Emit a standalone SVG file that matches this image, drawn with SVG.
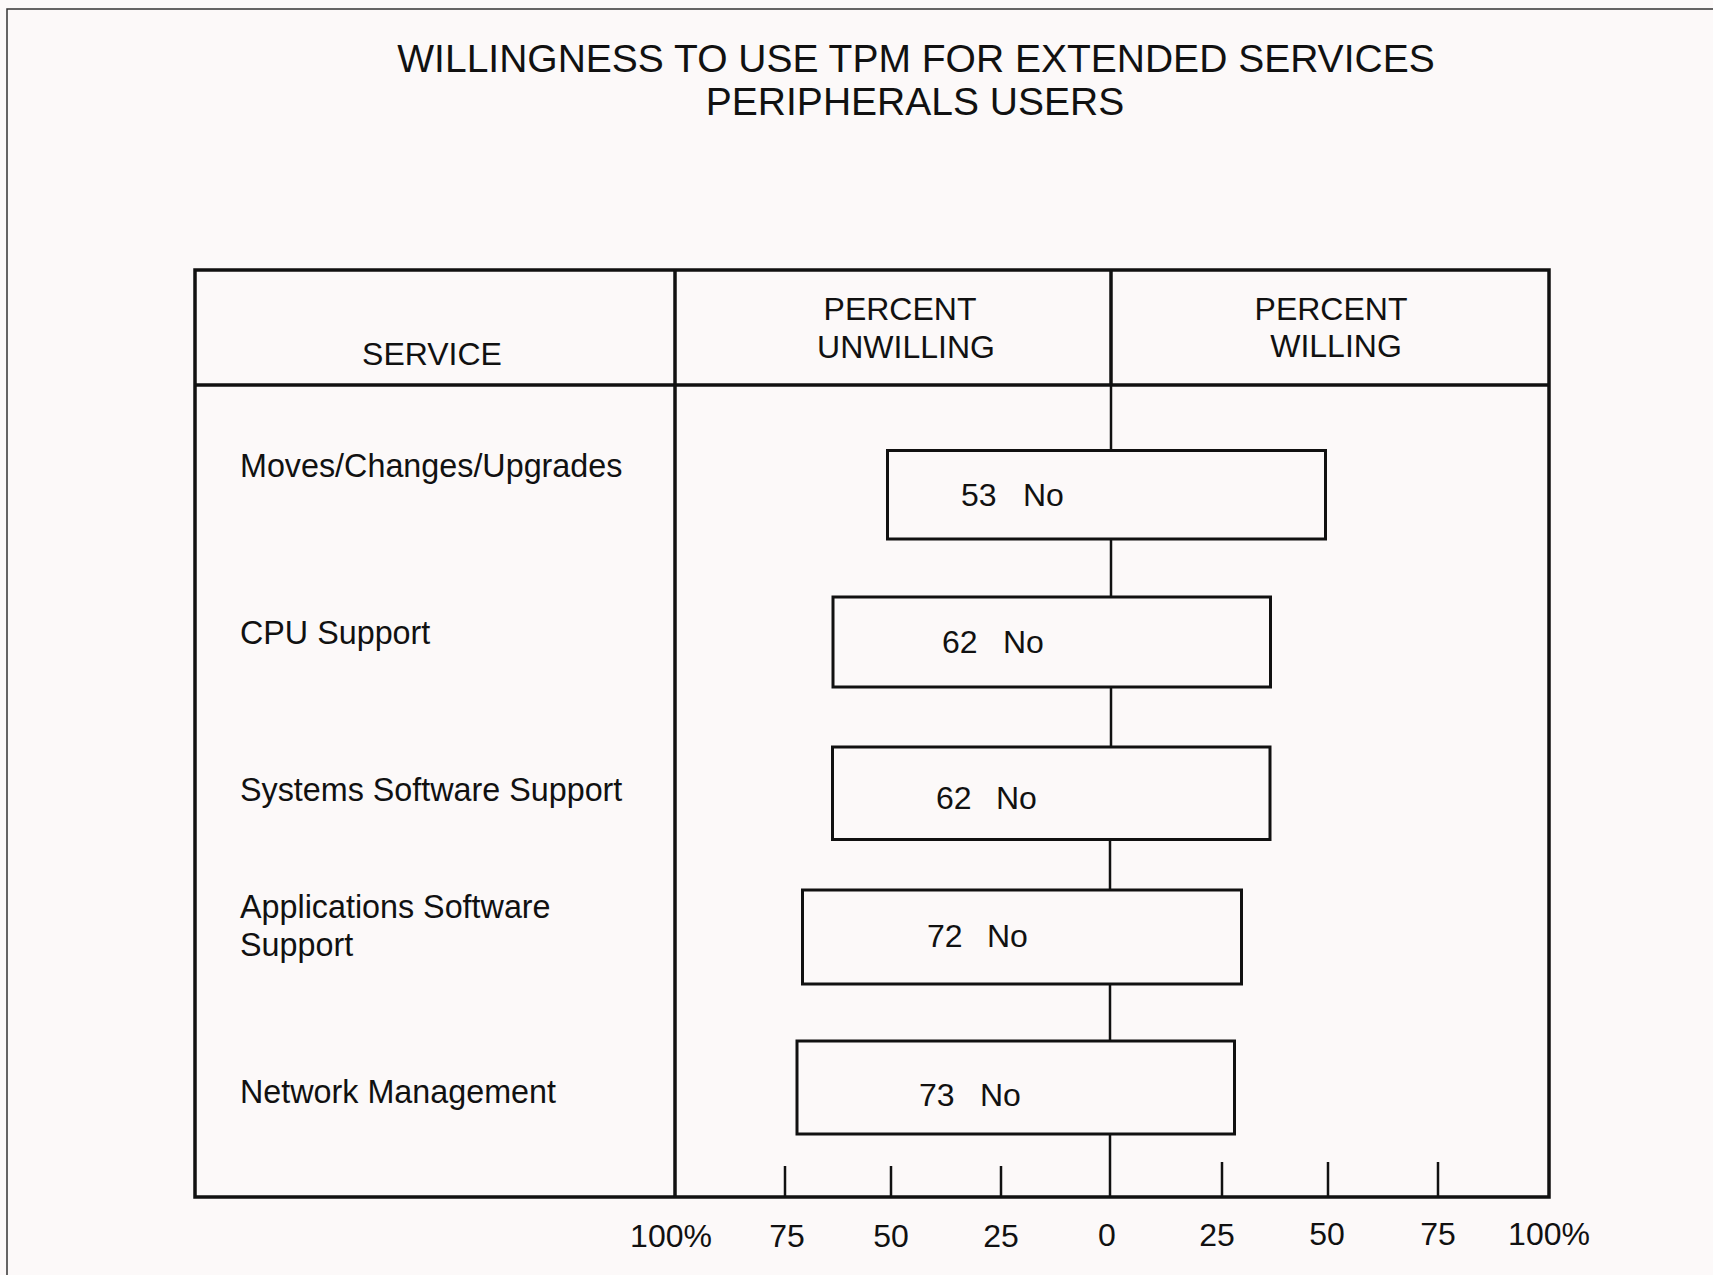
<svg xmlns="http://www.w3.org/2000/svg" width="1713" height="1275" viewBox="0 0 1713 1275">
<style>
text{font-family:"Liberation Sans",Arial,sans-serif;fill:#111;}
.title{font-size:39px;text-anchor:middle;}
.hdr{font-size:32px;text-anchor:middle;}
.svc{font-size:32.3px;}
.val{font-size:32px;}
.ax{font-size:32px;text-anchor:middle;}
.frame{fill:none;stroke:#111;stroke-width:3.5;}
.bar{fill:#fcf9f9;stroke:#111;stroke-width:3;}
.conn{stroke:#111;stroke-width:2.5;fill:none;}
.tick{stroke:#111;stroke-width:2.5;}
</style>
<rect x="0" y="0" width="1713" height="1275" fill="#fcf9f9"/>
<path d="M7,1275 L7,9 L1713,9" fill="none" stroke="#333" stroke-width="1.5"/>
<g id="title">
<text class="title" x="916" y="72">WILLINGNESS TO USE TPM FOR EXTENDED SERVICES</text>
<text class="title" x="915" y="115">PERIPHERALS USERS</text>
</g>
<g id="table">
<rect class="frame" x="195" y="270" width="1354" height="927"/>
<line class="frame" x1="195" y1="385" x2="1549" y2="385"/>
<line class="frame" x1="675" y1="270" x2="675" y2="1197"/>
<line class="frame" x1="1111" y1="270" x2="1111" y2="385"/>
<text class="hdr" x="432" y="365">SERVICE</text>
<text class="hdr" x="900" y="320">PERCENT</text>
<text class="hdr" x="906" y="358">UNWILLING</text>
<text class="hdr" x="1331" y="320">PERCENT</text>
<text class="hdr" x="1336" y="357">WILLING</text>
</g>
<g id="services">
<text class="svc" x="240" y="477">Moves/Changes/Upgrades</text>
<text class="svc" x="240" y="644">CPU Support</text>
<text class="svc" x="240" y="801">Systems Software Support</text>
<text class="svc" x="240" y="918">Applications Software</text>
<text class="svc" x="240" y="956">Support</text>
<text class="svc" x="240" y="1103">Network Management</text>
</g>
<g id="connectors">
<line class="conn" x1="1111" y1="385" x2="1111" y2="450"/>
<line class="conn" x1="1111" y1="539" x2="1111" y2="597"/>
<line class="conn" x1="1111" y1="687" x2="1111" y2="747"/>
<line class="conn" x1="1110" y1="839" x2="1110" y2="890"/>
<line class="conn" x1="1110" y1="984" x2="1110" y2="1041"/>
<line class="conn" x1="1110" y1="1134" x2="1110" y2="1197"/>
</g>
<g id="bar1">
<rect class="bar" x="887.5" y="450.5" width="438" height="88.5"/>
<text class="val" x="961" y="506">53<tspan x="1023">No</tspan></text>
</g>
<g id="bar2">
<rect class="bar" x="833" y="597" width="437.5" height="90"/>
<text class="val" x="942" y="653">62<tspan x="1003">No</tspan></text>
</g>
<g id="bar3">
<rect class="bar" x="832.5" y="747" width="437.5" height="92.5"/>
<text class="val" x="936" y="809">62<tspan x="996">No</tspan></text>
</g>
<g id="bar4">
<rect class="bar" x="802.5" y="890" width="439" height="94"/>
<text class="val" x="927" y="947">72<tspan x="987">No</tspan></text>
</g>
<g id="bar5">
<rect class="bar" x="797" y="1041" width="437.5" height="93"/>
<text class="val" x="919" y="1106">73<tspan x="980">No</tspan></text>
</g>
<g id="axis">
<line class="tick" x1="785" y1="1166" x2="785" y2="1197"/>
<line class="tick" x1="891" y1="1166" x2="891" y2="1197"/>
<line class="tick" x1="1001" y1="1166" x2="1001" y2="1197"/>
<line class="tick" x1="1222" y1="1162" x2="1222" y2="1197"/>
<line class="tick" x1="1328" y1="1162" x2="1328" y2="1197"/>
<line class="tick" x1="1438" y1="1162" x2="1438" y2="1197"/>
<text class="ax" x="671" y="1247">100%</text>
<text class="ax" x="787" y="1247">75</text>
<text class="ax" x="891" y="1247">50</text>
<text class="ax" x="1001" y="1247">25</text>
<text class="ax" x="1107" y="1246">0</text>
<text class="ax" x="1217" y="1246">25</text>
<text class="ax" x="1327" y="1245">50</text>
<text class="ax" x="1438" y="1245">75</text>
<text class="ax" x="1549" y="1245">100%</text>
</g>
</svg>
